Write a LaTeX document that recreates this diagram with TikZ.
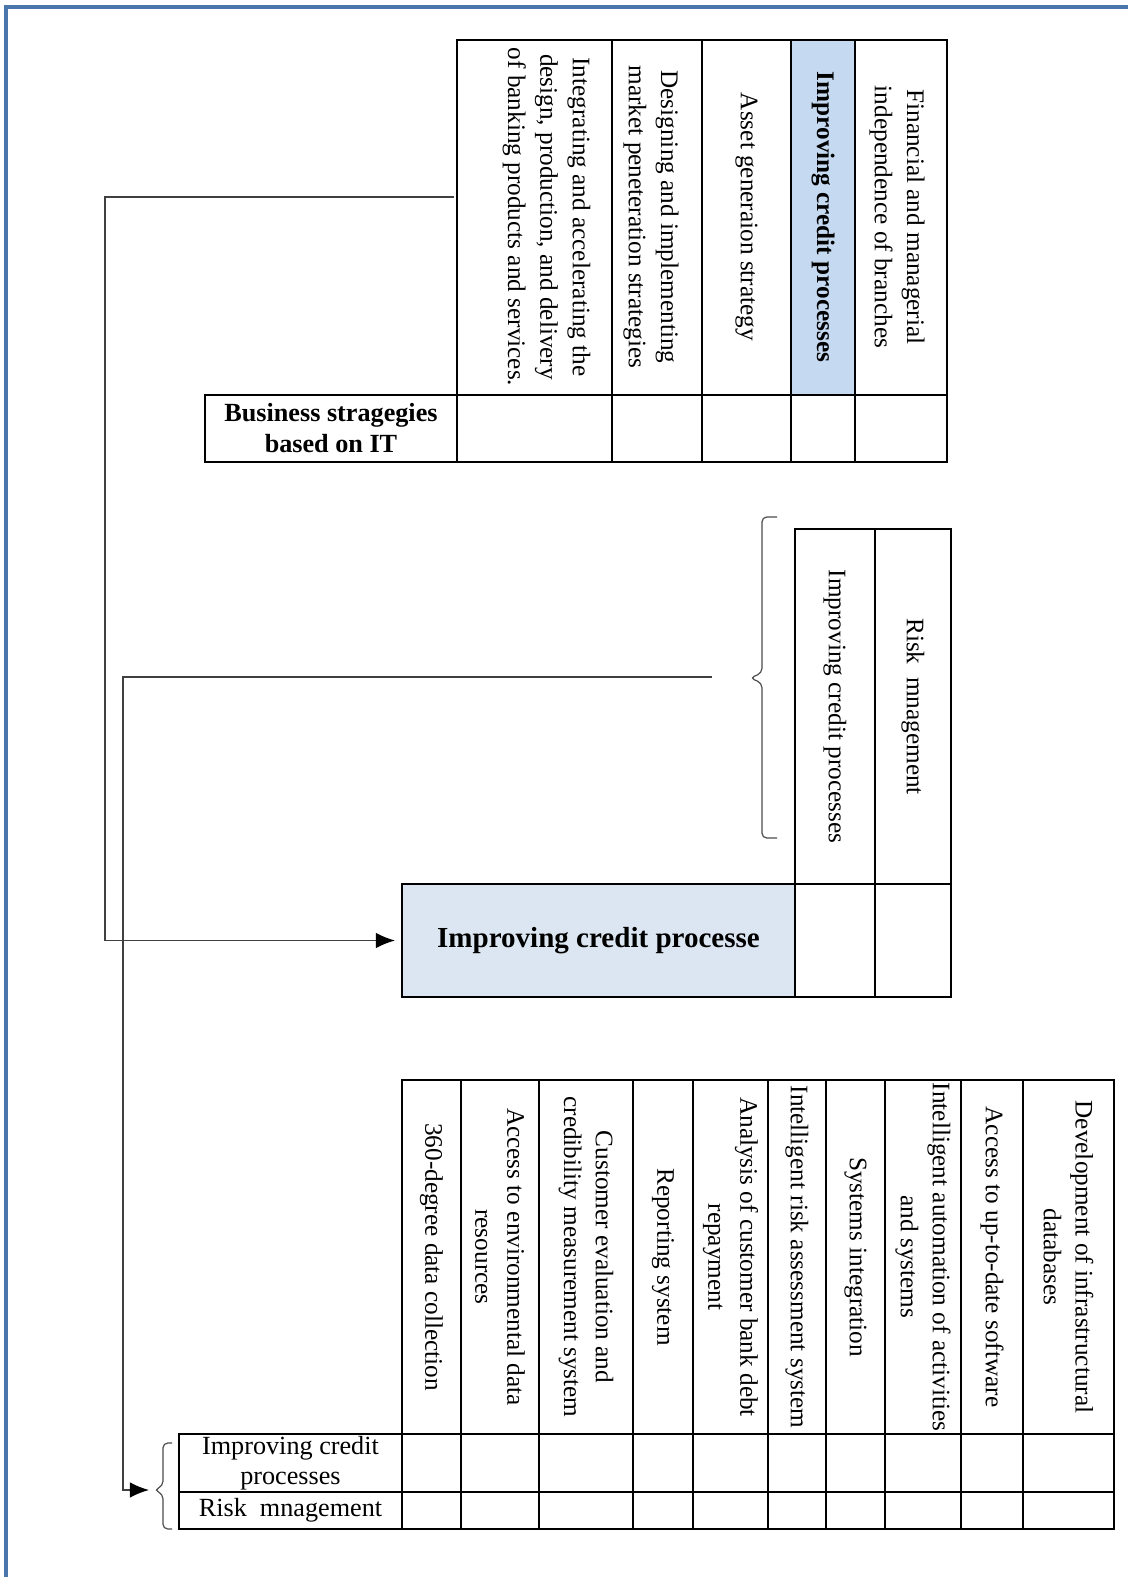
\documentclass[tikz,border=0pt]{standalone}
\usepackage{fontspec}
\setmainfont{Liberation Serif}
\usetikzlibrary{arrows.meta}
\definecolor{frameblue}{RGB}{74,118,172}
\definecolor{hiblue}{RGB}{197,217,241}
\definecolor{paleblue}{RGB}{220,230,242}

\begin{document}
\begin{tikzpicture}[x=0.42pt,y=-0.42pt,>={Latex[length=8pt,width=6.5pt,color=black]},
    tbl/.style={line width=0.85pt},
    conn/.style={draw=black!75,line width=0.6pt},
    brc/.style={draw=black!70,line width=0.5pt,rounded corners=2pt},
    vtext/.style={rotate=-90,align=center,inner sep=0pt,font=\fontsize{10.6}{13.6}\selectfont},
    htext/.style={align=center,inner sep=0pt,font=\fontsize{11}{12.5}\selectfont}]
    \useasboundingbox (0,0) rectangle (1128,1577);
    \draw[line width=1.3pt,draw=frameblue] (6,1577) -- (6,7) -- (1128,7);

    % business strategies based on IT
    \fill[hiblue] (791,40) rectangle (855,395);
    \foreach \xl/\xr/\dx/\txt [count=\i] in {
        457/612/12/{Integrating and accelerating the\\design, production, and delivery\\of banking products and services.},
        612/702/-6/{Designing and implementing\\market peneteration strategies},
        702/791/0/{Asset generaion strategy},
        791/855/0/{\textbf{Improving credit processes}},
        855/947/-4/{Financial and managerial\\independence of branches}}{
        \draw[tbl] (\xl,40) rectangle (\xr,395) (\xl,395) rectangle (\xr,462);
        \node[vtext] (bs\i) at ({(\xl+\xr)/2+\dx},217) {\txt};
    }
    \draw[tbl] (205,395) rectangle (457,462);
    \node[htext,font=\bfseries\fontsize{11}{13}\selectfont] (bsit) at (331,428.5) {Business stragegies\\based on IT};
    \coordinate (c1s) at (454,197);

    % improving credit processe
    \foreach \xl/\xr/\txt [count=\i] in {
        795/875/{Improving credit processes},
        875/951/{Risk\ \ mnagement}}{
        \draw[tbl] (\xl,529) rectangle (\xr,884) (\xl,884) rectangle (\xr,997);
        \node[vtext] (ic\i) at ({(\xl+\xr)/2},706.5) {\txt};
    }
    \node[draw,tbl,fill=paleblue,inner sep=0pt,minimum width=165.1pt,minimum height=47.5pt,
        font=\bfseries\fontsize{12.2}{15}\selectfont] (icp) at (598.5,940.5) {Improving credit processe};
    \draw[brc] (777,517) -| (762,673) -- (750,678) -- (762,683) |- (777,838);
    \coordinate (c2s) at (712,677);

    % IT tools
    \foreach \xl/\xr/\txt [count=\i] in {
        402/461/{360-degree data collection},
        461/539/{Access to environmental data\\resources},
        539/633/{Customer evaluation and\\credibility measurement system},
        633/693/{Reporting system},
        693/768/{Analysis of customer bank debt\\repayment},
        768/826/{Intelligent risk assessment system},
        826/885/{Systems integration},
        885/961/{Intelligent automation of activities\\and systems},
        961/1023/{Access to up-to-date software},
        1023/1114/{Development of infrastructural\\databases}}{
        \draw[tbl] (\xl,1080) rectangle (\xr,1434) (\xl,1434) rectangle (\xr,1492)
            (\xl,1492) rectangle (\xr,1529);
        \node[vtext,font=\fontsize{10.6}{13.4}\selectfont] (it\i) at ({(\xl+\xr)/2},1257) {\txt};
    }
    \draw[tbl] (179,1434) rectangle (402,1492) (179,1492) rectangle (402,1529);
    \node[htext] (lab1) at (290.5,1463) {Improving credit\\processes};
    \node[htext] (lab2) at (290.5,1510.5) {Risk\ \ mnagement};
    \draw[brc] (172,1443) -| (163,1486) -- (154,1490) -- (163,1494) |- (172,1529);
    \coordinate (b2tip) at (149,1490);

    % connectors
    \draw[conn,->] (c1s) -- +(-349,0) |- ([xshift=-2.5pt]icp.west);
    \draw[conn,->] (c2s) -- +(-589,0) |- (b2tip);
\end{tikzpicture}
\end{document}
